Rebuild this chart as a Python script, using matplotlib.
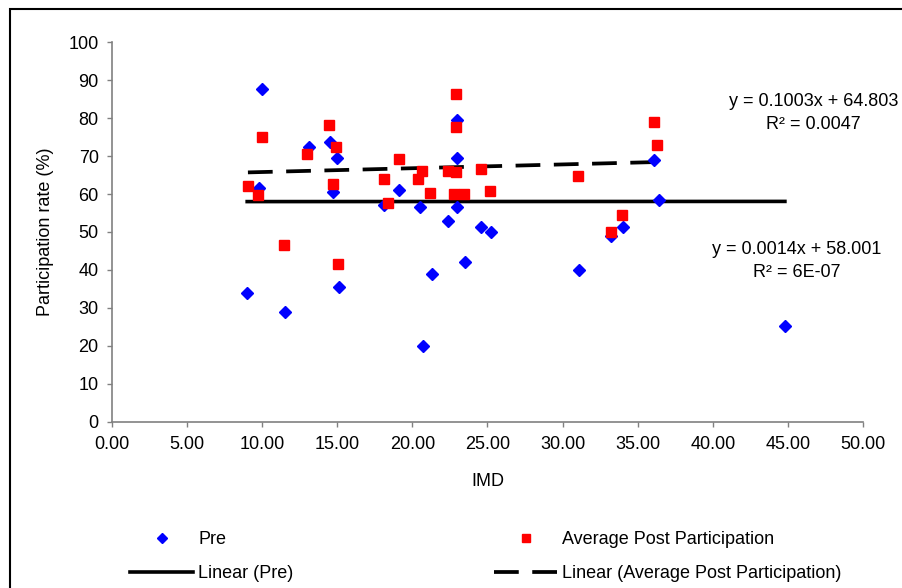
import numpy as np
import matplotlib
matplotlib.use("Agg")
import matplotlib.pyplot as plt
from matplotlib.patches import Rectangle

plt.rcParams['font.family'] = ['Liberation Sans', 'DejaVu Sans']

# IMD vs participation
pre_imd = [9.0, 10.0, 9.8, 11.5, 13.1, 14.5, 15.0, 14.7, 15.1, 18.1, 19.1, 20.5, 20.7,
           21.3, 22.4, 22.95, 22.95, 22.95, 23.5, 24.6, 25.2, 31.1, 33.2, 34.0, 36.1,
           36.4, 44.8]
pre_rate = [34.0, 87.6, 61.5, 29.0, 72.5, 73.7, 69.6, 60.5, 35.6, 57.2, 61.1, 56.6, 20.0,
            38.9, 53.0, 79.4, 69.6, 56.6, 42.0, 51.4, 50.0, 40.1, 48.9, 51.3, 69.1,
            58.5, 25.1]

post_imd = [9.05, 9.7, 9.96, 11.44, 13.0, 14.43, 14.9, 14.7, 15.03, 18.08, 18.4, 19.08,
            20.4, 20.67, 21.2, 22.35, 22.93, 22.93, 22.93, 22.8, 23.46, 24.6, 25.16,
            31.03, 33.2, 33.96, 36.06, 36.3]
post_rate = [62.1, 59.8, 75.1, 46.6, 70.6, 78.3, 72.5, 62.7, 41.6, 64.0, 57.7, 69.3,
             64.0, 66.2, 60.3, 66.2, 86.3, 77.6, 65.8, 60.0, 60.0, 66.7, 60.9,
             64.7, 50.1, 54.5, 79.1, 73.0]

# trendline coefficients as shown on the chart
pre_fit = (0.0014, 58.001)
post_fit = (0.1003, 64.803)

W, H = 903, 588
fig = plt.figure(figsize=(W / 100, H / 100), dpi=100)
ax = fig.add_axes([112 / W, 1 - 421.7 / H, (863 - 112) / W, (421.7 - 42.3) / H])

fs = 13
ax.plot(pre_imd, pre_rate, 'D', color='#0000FF', ms=6.5, ls='none', label='Pre', zorder=3)
ax.plot(post_imd, post_rate, 's', color='#FF0000', ms=7.2, ls='none',
        label='Average Post Participation', zorder=3)

xp = np.array([min(pre_imd), max(pre_imd)])
ax.plot(xp, pre_fit[0] * xp + pre_fit[1], color='black', lw=2.6, label='Linear (Pre)', zorder=2)
xq = np.array([min(post_imd), max(post_imd)])
ax.plot(xq, post_fit[0] * xq + post_fit[1], color='black', lw=2.7, dashes=(6.6, 3.6),
        label='Linear (Average Post Participation)', zorder=2)

ax.set_xlim(0, 50)
ax.set_ylim(0, 100)
ax.set_xticks(np.arange(0, 50.1, 5))
ax.set_xticklabels(['%.2f' % v for v in np.arange(0, 50.1, 5)])
ax.set_yticks(np.arange(0, 101, 10))
for s in ['top', 'right']:
    ax.spines[s].set_visible(False)
for s in ['left', 'bottom']:
    ax.spines[s].set_color('#808080')
    ax.spines[s].set_linewidth(1.2)
ax.tick_params(direction='out', length=3.6, width=1.0, color='#808080',
               labelsize=fs, labelcolor='black')
ax.tick_params(axis='x', pad=7)
ax.tick_params(axis='y', pad=6)

ax.text(46.7, 81.3, 'y = 0.1003x + 64.803\nR² = 0.0047', ha='center', va='center',
        fontsize=fs, linespacing=1.5)
ax.text(45.6, 42.4, 'y = 0.0014x + 58.001\nR² = 6E-07', ha='center', va='center',
        fontsize=fs, linespacing=1.5)

fig.text(45.5 / W, 1 - 231.5 / H, 'Participation rate (%)', rotation=90,
         ha='center', va='center', fontsize=fs)
fig.text(487.5 / W, 1 - 482 / H, 'IMD', ha='center', va='center', fontsize=fs)

handles, labels = ax.get_legend_handles_labels()
order = [0, 2, 1, 3]
fig.legend([handles[i] for i in order], [labels[i] for i in order],
           loc='upper left', bbox_to_anchor=(130 / W, 1 - 531 / H), ncol=2,
           frameon=False, fontsize=fs, borderpad=0, borderaxespad=0,
           handlelength=3.5, handletextpad=0.28, columnspacing=11.1,
           labelspacing=0.95, markerscale=0.75)

fig.patches.append(Rectangle((10 / W, -0.05), 1.0, 1 - 9 / H + 0.05, transform=fig.transFigure,
                             fill=False, edgecolor='black', lw=1.5))

fig.savefig('out.png', dpi=100)
